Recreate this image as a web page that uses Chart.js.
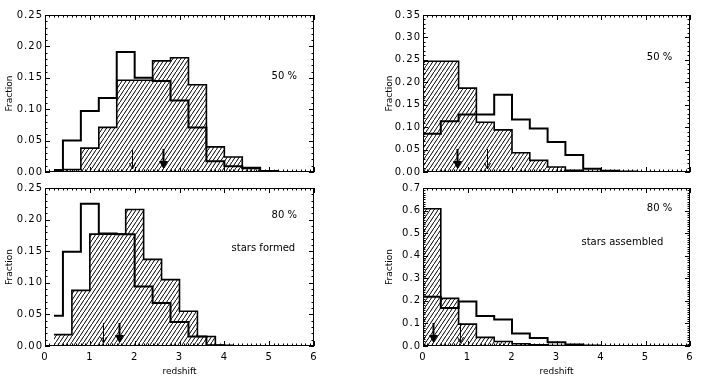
<!DOCTYPE html>
<html>
<head>
<meta charset="utf-8">
<script src="https://cdn.jsdelivr.net/npm/chart.js@4.4.1/dist/chart.umd.min.js"></script>
<style>
  html, body { margin: 0; padding: 0; background: #fff; }
  #wrap { position: relative; width: 708px; height: 383px; }
  canvas { position: absolute; }
</style>
</head>
<body>
<div id="wrap">
  <canvas id="tl" width="354" height="180" style="left:0;top:0"></canvas>
  <canvas id="bl" width="354" height="203" style="left:0;top:180px"></canvas>
  <canvas id="tr" width="354" height="180" style="left:354px;top:0"></canvas>
  <canvas id="br" width="354" height="203" style="left:354px;top:180px"></canvas>
</div>
<script>
// bin edges in redshift (last entry closes the last bin)
const edgesA = [0.2, 0.4, 0.8, 1.2, 1.6, 2.0, 2.4, 2.8, 3.2, 3.6, 4.0, 4.4, 4.8, 5.2, 5.6, 5.8]
const edgesB = [0.2, 0.6, 1.0, 1.4, 1.8, 2.2, 2.6, 3.0, 3.4, 3.8, 4.2, 4.6, 5.0, 5.4, 5.8]
const edgesC = [0, 0.4, 0.8, 1.2, 1.6, 2.0, 2.4, 2.8, 3.2, 3.6, 4.0, 4.4, 4.8, 5.2, 5.6]
const edgesD = [0, 0.8, 1.2, 1.6, 2.0, 2.4, 2.8, 3.2, 3.6, 4.0, 4.4, 4.8, 5.2, 5.6]

// stars formed, 50 %
const formed50Open = [0.003, 0.050, 0.097, 0.118, 0.191, 0.150, 0.145, 0.114, 0.071, 0.017, 0.009, 0.006, 0.001, 0, 0]
const formed50Hatch = [0.002, 0.004, 0.038, 0.071, 0.146, 0.146, 0.177, 0.182, 0.139, 0.040, 0.024, 0.007, 0.002, 0, 0]
// stars formed, 80 %
const formed80Open = [0.048, 0.149, 0.225, 0.178, 0.177, 0.094, 0.068, 0.038, 0.015, 0.001, 0, 0, 0, 0, 0]
const formed80Hatch = [0.018, 0.088, 0.177, 0.177, 0.216, 0.137, 0.105, 0.055, 0.015, 0.001, 0, 0, 0, 0]
// stars assembled, 50 %
const assembled50Open = [0.085, 0.113, 0.128, 0.128, 0.172, 0.117, 0.097, 0.067, 0.038, 0.007, 0.003, 0.001, 0, 0]
const assembled50Hatch = [0.247, 0.187, 0.111, 0.094, 0.043, 0.026, 0.011, 0.004, 0.001, 0, 0, 0, 0]
// stars assembled, 80 %
const assembled80Open = [0.218, 0.168, 0.197, 0.133, 0.117, 0.055, 0.035, 0.017, 0.007, 0.002, 0, 0, 0, 0]
const assembled80Hatch = [0.608, 0.211, 0.097, 0.038, 0.020, 0.010, 0.005, 0.002, 0.001, 0, 0, 0, 0, 0]

// median arrows: [open (thin), hatched (thick)]
const arrowsTL = [1.95, 2.64]
const arrowsBL = [1.29, 1.64]
const arrowsTR = [1.44, 0.76]
const arrowsBR = [0.84, 0.22]

Chart.defaults.font.family = 'DejaVu Sans'
Chart.defaults.font.size = 10
Chart.defaults.color = '#000'

function steps(edges, vals) {
  const pts = vals.map((v, i) => ({ x: edges[i], y: v }))
  pts.push({ x: edges[edges.length - 1], y: vals[vals.length - 1] })
  return pts
}

// diagonal hatch, slope 1.5, 4px apart
function makeHatch() {
  const c = document.createElement('canvas')
  c.width = 4
  c.height = 6
  const g = c.getContext('2d')
  g.strokeStyle = '#000'
  g.lineWidth = 1
  g.beginPath()
  for (let k = -1; k <= 1; k++) {
    g.moveTo(0, 6 + 6 * k)
    g.lineTo(4, 6 * k)
  }
  g.stroke()
  return g.createPattern(c, 'repeat')
}
const hatch = makeHatch()

// IDL style box with inward ticks, median arrows and text labels
const idlBox = {
  id: 'idlBox',
  beforeDraw(chart) {
    chart.ctx.letterSpacing = '0px'
  },
  afterDatasetsDraw(chart, args, opts) {
    const { ctx, chartArea: a, scales: { x, y } } = chart
    ctx.save()
    ctx.strokeStyle = '#000'
    ctx.lineWidth = 1
    ctx.strokeRect(a.left + 0.5, a.top + 0.5, a.right - a.left - 1, a.bottom - a.top - 1)

    ctx.beginPath()
    const nx = Math.round((x.max - x.min) / opts.xMinor)
    for (let i = 0; i <= nx; i++) {
      const px = Math.round(x.getPixelForValue(x.min + i * opts.xMinor)) + 0.5
      const len = i % opts.xPer === 0 ? 5 : 2.5
      ctx.moveTo(px, a.bottom); ctx.lineTo(px, a.bottom - len)
      ctx.moveTo(px, a.top); ctx.lineTo(px, a.top + len)
    }
    const ny = Math.round((y.max - y.min) / opts.yMinor)
    for (let i = 0; i <= ny; i++) {
      const py = Math.round(y.getPixelForValue(y.min + i * opts.yMinor)) + 0.5
      const len = i % opts.yPer === 0 ? 5 : 2.5
      ctx.moveTo(a.left, py); ctx.lineTo(a.left + len, py)
      ctx.moveTo(a.right, py); ctx.lineTo(a.right - len, py)
    }
    ctx.stroke()

    // arrows
    const tip = a.bottom - 3
    opts.arrows.forEach((v, i) => {
      const px = Math.round(x.getPixelForValue(v)) + 0.5
      ctx.beginPath()
      if (i === 0) {
        ctx.lineWidth = 1
        ctx.moveTo(px, tip - 20); ctx.lineTo(px, tip)
        ctx.moveTo(px - 3, tip - 6); ctx.lineTo(px, tip); ctx.lineTo(px + 3, tip - 6)
        ctx.stroke()
      } else {
        ctx.lineWidth = 2
        ctx.moveTo(px, tip - 20); ctx.lineTo(px, tip - 6)
        ctx.stroke()
        ctx.beginPath()
        ctx.moveTo(px - 4.5, tip - 8); ctx.lineTo(px + 4.5, tip - 8); ctx.lineTo(px, tip)
        ctx.closePath()
        ctx.fillStyle = '#000'
        ctx.fill()
      }
    })

    // labels
    ctx.font = '10px "DejaVu Sans"'
    ctx.fillStyle = '#000'
    ctx.textAlign = 'right'
    ctx.textBaseline = 'middle'
    opts.labels.forEach(l => ctx.fillText(l.text, x.getPixelForValue(l.x), y.getPixelForValue(l.y)))
    ctx.restore()
    // tick labels are drawn after this (ticks.z = 1), a bit spaced out
    ctx.letterSpacing = '1px'
  }
}

function makePanel(id, o) {
  return new Chart(document.getElementById(id), {
    type: 'line',
    data: {
      datasets: [{
        data: steps(o.openEdges, o.open),
        borderColor: '#000',
        borderWidth: 2,
        stepped: 'before',
        pointRadius: 0,
        fill: false
      }, {
        data: steps(o.hatchEdges, o.hatched),
        borderColor: '#000',
        borderWidth: 1.6,
        stepped: 'before',
        pointRadius: 0,
        fill: 'origin',
        backgroundColor: hatch
      }]
    },
    options: {
      responsive: false,
      animation: false,
      devicePixelRatio: 1,
      layout: { padding: o.pad },
      plugins: {
        legend: { display: false },
        tooltip: { enabled: false },
        idlBox: {
          xMinor: 0.1, xPer: 10,
          yMinor: 0.01, yPer: o.yPer,
          arrows: o.arrows,
          labels: o.labels
        }
      },
      scales: {
        x: {
          type: 'linear',
          min: 0,
          max: 6,
          ticks: { z: 1, stepSize: 1, display: o.bottom, padding: 5, maxRotation: 0, autoSkip: false },
          grid: { display: false, drawTicks: false },
          border: { display: false },
          title: { display: o.bottom, text: 'redshift', font: { size: 9 }, padding: { top: 0, bottom: 5.5 } },
          afterFit: s => { s.height = o.xh }
        },
        y: {
          type: 'linear',
          min: 0,
          max: o.ymax,
          ticks: { z: 1, stepSize: o.ystep, padding: 2, callback: v => v.toFixed(o.dec) },
          grid: { display: false, drawTicks: false },
          border: { display: false },
          title: { display: true, text: 'Fraction', font: { size: 9 }, padding: { top: o.tpad, bottom: 0 } },
          afterFit: s => { s.width = o.yw }
        }
      }
    },
    plugins: [idlBox]
  })
}

makePanel('tl', {
  openEdges: edgesA, open: formed50Open, hatchEdges: edgesA, hatched: formed50Hatch,
  pad: { top: 15, right: 40, left: 0, bottom: 0 }, xh: 6, yw: 45, tpad: 4.6, bottom: false,
  ymax: 0.25, ystep: 0.05, dec: 2, yPer: 5, arrows: arrowsTL,
  labels: [{ text: '50 %', x: 5.62, y: 0.153 }]
})
makePanel('bl', {
  openEdges: edgesA, open: formed80Open, hatchEdges: edgesB, hatched: formed80Hatch,
  pad: { top: 7, right: 40, left: 0, bottom: 0 }, xh: 37, yw: 45, tpad: 4.6, bottom: true,
  ymax: 0.25, ystep: 0.05, dec: 2, yPer: 5, arrows: arrowsBL,
  labels: [{ text: '80 %', x: 5.62, y: 0.206 }, { text: 'stars formed', x: 5.58, y: 0.154 }]
})
makePanel('tr', {
  openEdges: edgesC, open: assembled50Open, hatchEdges: edgesD, hatched: assembled50Hatch,
  pad: { top: 15, right: 18, left: 0, bottom: 0 }, xh: 6, yw: 69, tpad: 30.6, bottom: false,
  ymax: 0.35, ystep: 0.05, dec: 2, yPer: 5, arrows: arrowsTR,
  labels: [{ text: '50 %', x: 5.6, y: 0.255 }]
})
makePanel('br', {
  openEdges: edgesC, open: assembled80Open, hatchEdges: edgesC, hatched: assembled80Hatch,
  pad: { top: 7, right: 18, left: 0, bottom: 0 }, xh: 37, yw: 69, tpad: 30.6, bottom: true,
  ymax: 0.7, ystep: 0.1, dec: 1, yPer: 10, arrows: arrowsBR,
  labels: [{ text: '80 %', x: 5.6, y: 0.611 }, { text: 'stars assembled', x: 5.4, y: 0.461 }]
})
</script>
</body>
</html>
